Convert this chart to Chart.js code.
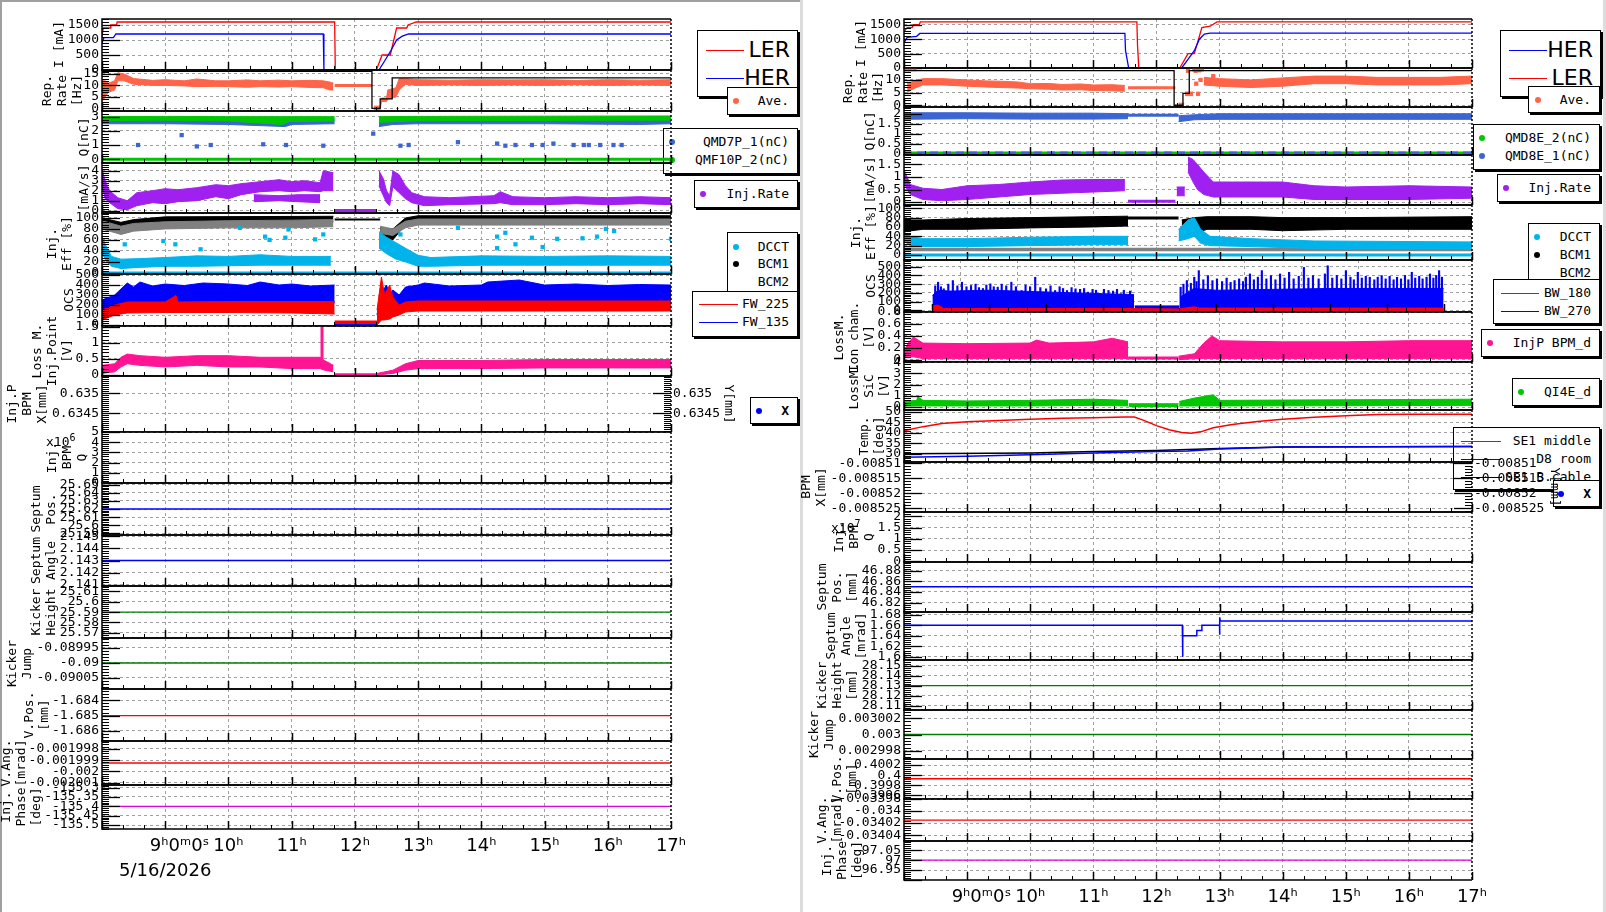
<!DOCTYPE html>
<html>
<head>
<meta charset="utf-8">
<script src="https://cdn.jsdelivr.net/npm/chart.js@4/dist/chart.umd.min.js"></script>
<style>
html,body{margin:0;padding:0}
body{width:1606px;height:912px;position:relative;overflow:hidden;background:#fff}
canvas{position:absolute;z-index:2}
.frm{position:absolute;left:0;top:0;width:800px;height:912px;border-left:2px solid #a0a0a0;border-top:2px solid #a0a0a0;box-sizing:border-box}
.sep{position:absolute;top:0;width:3px;height:912px;background:#dcdcdc}
.lg{position:absolute;background:#fff;border:1px solid #000;box-shadow:2px 2px 0 #000;box-sizing:border-box;z-index:1}
.lg span{position:absolute;right:8px;font:13px 'DejaVu Sans Mono',monospace;line-height:16px;white-space:pre;color:#000}
.lg i{position:absolute;width:6px;height:6px;border-radius:50%;margin:-3px 0 0 -3px}
.lg b{position:absolute;height:0;border-top:1.5px solid}
.lg.big span{font:22px 'DejaVu Sans',sans-serif;line-height:26px;right:7px}
.exp{position:absolute;font:13px 'DejaVu Sans Mono',monospace;z-index:3}
</style>
</head>
<body>
<div class="frm"></div>
<div class="sep" style="left:800px"></div>
<div class="sep" style="left:1603px"></div>

<!-- left column legends -->
<div class="lg big" style="left:697px;top:30px;width:101px;height:67px"><b style="left:8px;top:19px;width:38px;border-color:#f00"></b><span style="top:6px">LER</span><b style="left:8px;top:47px;width:38px;border-color:#00f"></b><span style="top:34px">HER</span></div>
<div class="lg" style="left:727px;top:87px;width:71px;height:28px"><i style="left:8px;top:13px;background:#ff6448"></i><span style="top:5px">Ave.</span></div>
<div class="lg" style="left:663px;top:128px;width:135px;height:46px"><i style="left:8px;top:13px;background:#3c64d2"></i><span style="top:5px">QMD7P_1(nC)</span><i style="left:8px;top:31px;background:#00c800"></i><span style="top:23px">QMF10P_2(nC)</span></div>
<div class="lg" style="left:694px;top:180px;width:104px;height:28px"><i style="left:8px;top:13px;background:#a020f0"></i><span style="top:5px">Inj.Rate</span></div>
<div class="lg" style="left:727px;top:232px;width:71px;height:64px"><i style="left:8px;top:14px;background:#00b4eb"></i><span style="top:6px">DCCT</span><i style="left:8px;top:31px;background:#000"></i><span style="top:23px">BCM1</span><span style="top:41px">BCM2</span></div>
<div class="lg" style="left:692px;top:291px;width:106px;height:46px"><b style="left:6px;top:12px;width:39px;border-color:#f00"></b><span style="top:4px">FW_225</span><b style="left:6px;top:30px;width:39px;border-color:#00f"></b><span style="top:22px">FW_135</span></div>
<div class="lg" style="left:750px;top:397px;width:48px;height:27px"><i style="left:8px;top:13px;background:#00f"></i><span style="top:5px;font-weight:bold">X</span></div>

<!-- right column legends -->
<div class="lg big" style="left:1500px;top:30px;width:101px;height:67px"><b style="left:8px;top:19px;width:38px;border-color:#00f"></b><span style="top:6px">HER</span><b style="left:8px;top:47px;width:38px;border-color:#f00"></b><span style="top:34px">LER</span></div>
<div class="lg" style="left:1528px;top:86px;width:72px;height:27px"><i style="left:9px;top:13px;background:#ff6448"></i><span style="top:5px">Ave.</span></div>
<div class="lg" style="left:1473px;top:124px;width:127px;height:46px"><i style="left:8px;top:13px;background:#00c800"></i><span style="top:5px">QMD8E_2(nC)</span><i style="left:8px;top:31px;background:#3c64d2"></i><span style="top:23px">QMD8E_1(nC)</span></div>
<div class="lg" style="left:1497px;top:174px;width:103px;height:28px"><i style="left:8px;top:13px;background:#a020f0"></i><span style="top:5px">Inj.Rate</span></div>
<div class="lg" style="left:1528px;top:223px;width:72px;height:63px"><i style="left:8px;top:13px;background:#00b4eb"></i><span style="top:5px">DCCT</span><i style="left:8px;top:31px;background:#000"></i><span style="top:23px">BCM1</span><span style="top:41px">BCM2</span></div>
<div class="lg" style="left:1493px;top:279px;width:107px;height:45px"><b style="left:7px;top:13px;width:38px;border-color:#f00"></b><span style="top:5px">BW_180</span><b style="left:7px;top:31px;width:38px;border-color:#00f"></b><span style="top:23px">BW_270</span></div>
<div class="lg" style="left:1481px;top:329px;width:119px;height:28px"><i style="left:8px;top:13px;background:#ff1493"></i><span style="top:5px">InjP BPM_d</span></div>
<div class="lg" style="left:1512px;top:378px;width:88px;height:28px"><i style="left:8px;top:13px;background:#00c800"></i><span style="top:5px">QI4E_d</span></div>
<div class="lg" style="left:1453px;top:427px;width:147px;height:63px"><b style="left:7px;top:13px;width:40px;border-color:#f00"></b><span style="top:5px">SE1 middle</span><b style="left:7px;top:31px;width:40px;border-color:#00f"></b><span style="top:23px">D8 room</span><b style="left:7px;top:49px;width:40px;border-color:#000"></b><span style="top:41px">SE1 B.cable</span></div>
<div class="lg" style="left:1553px;top:480px;width:47px;height:27px"><i style="left:7px;top:13px;background:#00f"></i><span style="top:5px;font-weight:bold">X</span></div>

<div class="exp" style="left:46px;top:432px">x10<sup style="font-size:10px">6</sup></div>
<div class="exp" style="left:831px;top:518px">x10<sup style="font-size:10px">7</sup></div>

<script>
// ---------- time axis ----------
const hourTicks = [8, 9, 10, 11, 12, 13, 14, 15, 16, 17];
const firstLabelL = ['     9ʰ0ᵐ0ˢ', '5/16/2026'];
const firstLabelR = '     9ʰ0ᵐ0ˢ';

// ---------- left page ----------
const L_I_ticks = [0, 500, 1000, 1500];
const L_I_LER = [[8,1100],[8.02,1400],[8.13,1400],[8.14,1500],[8.23,1500],[8.24,1600],[11.68,1600],[11.69,0],[12.34,0],[12.43,500],[12.56,500],[12.66,1400],[12.82,1400],[12.84,1500],[12.97,1600],[17,1600]];
const L_I_HER = [[8,900],[8.03,1080],[8.18,1080],[8.22,1200],[11.5,1200],[11.51,0],[12.38,0],[12.47,300],[12.57,650],[12.66,1000],[12.75,1130],[12.85,1200],[17,1200]];

const L_rep_ticks = [0, 5, 10, 15];
const L_rep_a = [[8,3,12],[8.05,5,12],[8.1,7,11],[8.2,8,12],[8.25,12,15.5],[8.35,12,15],[8.5,10.5,13],[8.8,10,12.2],[9,10,12.5],[9.3,9.8,12],[9.5,9.5,12.8],[9.8,9.6,12],[10,9.5,12],[10.3,9.2,12.4],[10.5,9.5,12],[10.8,9.3,12.3],[11,9.5,12],[11.3,9.1,12.2],[11.5,9,12],[11.6,8,11.5],[11.66,8,11]];
const L_rep_hold = [[11.68,10],[12.27,10]];
const L_rep_b = [[12.3,-0.5,1],[12.4,-0.5,1],[12.42,3,4.5],[12.5,3,4.5],[12.52,4,8],[12.65,5,9],[12.7,8,13],[12.8,10.5,13],[13,10,12.5],[13.5,10.2,12.3],[14,10,12.5],[14.5,10.2,12.4],[15,10,12.5],[15.5,10.3,12.2],[16,10,12.5],[16.5,10.2,12.3],[17,10,12.5]];
const L_rep_set = [[8,16.1],[12.27,16.1],[12.27,0],[12.4,0],[12.4,4.2],[12.59,4.2],[12.59,13.3],[17,13.3]];

const L_q_ticks = [0, 1, 2, 3];
const L_q_blue_a = [[8,2.5,2.85],[9,2.5,2.85],[10,2.45,2.85],[10.9,2.3,2.85],[11,2.45,2.85],[11.68,2.5,2.85]];
const L_q_blue_b = [[12.38,2.3,2.7],[12.6,2.45,2.8],[13,2.5,2.85],[15,2.5,2.85],[16.5,2.45,2.85],[17,2.5,2.85]];
const L_q_green_a = [[8,2.72,3.0],[9,2.75,3.02],[10,2.7,3.0],[10.85,2.45,3.0],[10.95,2.65,3.0],[11.68,2.7,3.0]];
const L_q_green_b = [[12.38,2.6,3.0],[13,2.72,3.02],[17,2.75,3.05]];
const L_q_zero = [[8,0],[17,0]];
const L_q_blue_pts = [[8.57,1.0],[9.26,1.7],[9.5,0.9],[9.72,1.0],[10.55,1.05],[10.91,1.0],[11.5,0.95],[12.29,1.8],[12.72,0.95],[12.85,1.0],[13.63,1.2],[14.25,1.1],[14.38,0.95],[14.54,1.0],[14.8,1.0],[14.97,1.0],[15.14,1.1],[15.46,1.0],[15.62,1.0],[15.7,1.0],[15.88,1.0],[16.09,1.0],[16.22,1.0]];

const L_rate_ticks = [0, 1, 2, 3, 4];
const L_rate_a = [[8,2.5,4.2],[8.05,1.2,3.0],[8.12,0.8,2.0],[8.25,0.2,1.3],[8.4,0.1,1.0],[8.55,0.5,1.8],[8.8,0.8,2.0],[9.0,0.7,2.2],[9.2,0.9,2.1],[9.5,1.0,2.3],[9.8,1.4,2.6],[10.0,1.2,2.5],[10.2,1.6,2.7],[10.5,1.9,2.9],[10.8,2.0,3.1],[11,1.9,2.9],[11.2,2.0,3.0],[11.45,1.9,2.8],[11.5,2.0,4.0],[11.66,2.0,3.8]];
const L_rate_a2 = [[10.4,0.9,1.6],[10.8,1.0,1.5],[11.1,0.9,1.6],[11.45,0.8,1.6]];
const L_rate_hold = [[11.68,0.02],[12.35,0.02]];
const L_rate_b = [[12.38,2.5,4.0],[12.45,1.5,3.2],[12.5,0.8,2.0],[12.55,0.5,1.5],[12.6,2.4,4.0],[12.7,1.8,3.6],[12.8,1.2,2.5],[12.9,0.8,1.8],[13.1,0.5,1.4],[13.5,0.6,1.3],[14.2,0.7,1.5],[14.3,0.8,1.9],[14.5,0.6,1.4],[15,0.6,1.3],[15.5,0.7,1.4],[16,0.6,1.3],[16.5,0.7,1.4],[17,0.6,1.3]];

const L_eff_ticks = [0, 20, 40, 60, 80, 100];
const L_eff_black_a = [[8,88,100],[8.3,80,92],[8.5,86,97],[9,92,102],[11.66,93,103]];
const L_eff_gray_a = [[8,80,95],[8.3,70,85],[8.5,76,90],[9,80,93],[10,82,95],[11,82,96],[11.66,84,97]];
const L_eff_black_hold = [[11.68,97],[12.4,97]];
const L_eff_black_b = [[12.4,65,82],[12.6,60,80],[12.8,88,100],[13,97,104],[17,97,104]];
const L_eff_gray_b = [[12.4,72,85],[12.6,68,80],[12.8,82,94],[13,87,98],[17,87,98]];
const L_eff_cyan_a = [[8,35,65],[8.08,20,45],[8.15,12,30],[8.3,8,25],[8.6,10,26],[9,12,28],[9.5,12,31],[10,13,30],[10.5,14,33],[11,14,30],[11.62,14,30]];
const L_eff_cyan_b = [[12.38,45,75],[12.5,35,65],[12.65,25,55],[12.8,20,45],[13,12,32],[13.2,12,28],[14,14,31],[15,14,30],[16,14,31],[17,14,30]];
const L_eff_zero = [[8,0],[17,0]];
const L_eff_cyan_pts = [[8.36,52],[8.97,58],[9.16,52],[9.56,43],[10.18,82],[10.58,66],[10.65,60],[10.9,64],[10.95,79],[11.37,61],[11.5,70],[12.72,70],[13.63,82],[14.25,66],[14.38,73],[14.54,52],[14.8,64],[15.2,62],[15.6,63],[15.83,66],[15.97,80],[16.1,76],[17,62],[14.25,45],[14.97,47]];

const L_ocs_ticks = [0, 100, 200, 300, 400, 500];
const L_ocs_blue_a = [[8,80,250],[8.2,150,300],[8.4,230,420],[8.5,230,380],[8.6,230,430],[8.8,230,390],[9,230,410],[9.3,230,395],[9.6,230,420],[10,230,410],[10.3,230,395],[10.5,230,430],[10.8,230,400],[11,230,410],[11.3,230,390],[11.68,220,400]];
const L_ocs_red_a = [[8,50,150],[8.2,100,200],[8.4,120,230],[9,125,230],[9.17,125,295],[9.2,125,230],[10,125,235],[11,120,235],[11.68,110,235]];
const L_ocs_red_hold = [[11.68,15,40],[12.35,15,40]];
const L_ocs_blue_zero = [[11.68,0],[12.35,0]];
const L_ocs_blue_b = [[12.35,0,100],[12.4,50,300],[12.45,80,350],[12.5,100,400],[12.55,80,300],[12.6,100,350],[12.7,150,300],[12.8,200,380],[13,230,400],[13.1,230,420],[13.5,230,390],[14,230,400],[14.1,230,430],[14.6,230,450],[15,230,400],[15.5,230,410],[16,230,395],[16.5,230,405],[17,230,400]];
const L_ocs_red_b = [[12.35,0,150],[12.42,50,480],[12.47,50,300],[12.55,60,400],[12.6,80,280],[12.7,100,200],[12.8,130,230],[13,140,240],[17,140,240]];

const L_loss_ticks = [0, 0.5, 1, 1.5];
const L_loss_a = [[8,0.05,0.3],[8.2,0.1,0.35],[8.3,0.25,0.55],[8.4,0.35,0.65],[8.6,0.3,0.6],[9,0.25,0.55],[9.5,0.3,0.6],[10,0.25,0.6],[10.5,0.25,0.55],[11,0.2,0.55],[11.45,0.2,0.55],[11.52,0.15,0.45],[11.66,0.1,0.3]];
const L_loss_spike = [[11.48,0.5],[11.48,1.5]];
const L_loss_hold = [[11.68,0.01],[12.35,0.01]];
const L_loss_b = [[12.35,0,0.05],[12.6,0.05,0.15],[12.8,0.15,0.35],[13,0.2,0.45],[14,0.2,0.45],[15,0.22,0.48],[17,0.22,0.48]];

const L_bpmx_ticks = [0.6345, 0.635];
const L_bpmq_ticks = [0, 1, 2, 3, 4, 5];
const L_septpos_ticks = [25.59, 25.6, 25.61, 25.62, 25.63, 25.64, 25.65];
const L_septpos = [[8,25.62],[17,25.62]];
const L_septang_ticks = [2.141, 2.142, 2.143, 2.144, 2.145];
const L_septang = [[8,2.143],[17,2.143]];
const L_kickh_ticks = [25.57, 25.58, 25.59, 25.6, 25.61];
const L_kickh = [[8,25.59],[17,25.59]];
const L_kickj_ticks = [-0.09005, -0.09, -0.08995];
const L_kickj = [[8,-0.09],[17,-0.09]];
const L_vpos_ticks = [-1.686, -1.685, -1.684];
const L_vpos = [[8,-1.685],[17,-1.685]];
const L_vang_ticks = [-0.002001, -0.002, -0.001999, -0.001998];
const L_vang = [[8,-0.00199925],[17,-0.00199925]];
const L_phase_ticks = [-135.5, -135.45, -135.4, -135.35, -135.3];
const L_phase = [[8,-135.4],[17,-135.4]];

// ---------- right page ----------
const R_I_ticks = [0, 500, 1000, 1500];
const R_I_LER = [[8,1250],[8.05,1400],[8.13,1400],[8.15,1500],[8.24,1500],[8.26,1600],[11.69,1600],[11.7,800],[11.72,0],[12.37,0],[12.5,500],[12.6,500],[12.72,1400],[12.85,1450],[12.96,1600],[17,1600]];
const R_I_HER = [[8,870],[8.05,1060],[8.2,1100],[8.25,1200],[11.5,1200],[11.51,600],[11.56,0],[12.4,0],[12.5,300],[12.6,600],[12.68,1000],[12.76,1180],[12.85,1210],[17,1210]];

const R_rep_ticks = [0, 5, 10];
const R_rep_pts = [[8,14.3],[8.02,14.3],[8.05,14.3],[8.08,14.3],[8.1,14.3],[8.17,14.3],[12.5,13.6],[12.6,14.2],[12.62,13.6],[12.68,13.8],[12.72,14.2],[12.63,8.5],[12.66,4.5],[12.7,10],[12.9,11.5]];
const R_rep_a = [[8.05,5,8.5],[8.15,6.5,9.5],[8.3,8,10.5],[8.6,8,10.5],[9,7.5,10],[9.3,7.2,9.6],[9.5,7,9.5],[9.8,6.8,9.2],[10,6.5,8.5],[10.3,6.3,8.6],[10.5,6,8.2],[10.8,6.1,8.4],[11,5.8,8],[11.3,5.7,8.1],[11.5,5.5,7.8]];
const R_rep_hold = [[11.55,6.9],[12.3,6.9]];
const R_rep_b = [[12.35,-0.5,0.8],[12.44,-0.5,0.8]];
const R_rep_c = [[12.45,3.8,5.2],[12.58,3.8,5.2]];
const R_rep_d = [[12.75,8,11],[13,7.5,10.5],[13.5,7,10],[14,7.5,10.8],[14.5,8.5,11.5],[15,8.5,11.5],[15.5,8,11],[16,8,11],[16.5,8,11],[17,8.5,11.5]];
const R_rep_set = [[8,13.7],[12.28,13.7],[12.28,0],[12.42,0],[12.42,4.7],[12.52,4.7],[12.52,13.7],[17,13.7]];

const R_q_ticks = [0, 0.5, 1, 1.5, 2];
const R_q_blue_a = [[8,1.72,2.05],[9,1.75,2.05],[10,1.73,2.03],[11,1.73,2.03],[11.55,1.75,2.0]];
const R_q_blue_hold = [[11.55,1.92],[12.35,1.92]];
const R_q_blue_b = [[12.35,1.6,1.9],[12.6,1.7,1.95],[13,1.72,2.0],[17,1.72,2.0]];
const R_q_zero = [[8,0],[17,0]];

const R_rate_ticks = [0, 0.5, 1, 1.5];
const R_rate_a = [[8,0.8,1.3],[8.05,0.5,1.0],[8.1,0.3,0.7],[8.3,0.1,0.55],[8.6,0.05,0.5],[9,0.1,0.65],[9.5,0.2,0.7],[10,0.3,0.8],[10.5,0.35,0.88],[11,0.4,0.9],[11.5,0.45,0.9]];
const R_rate_hold = [[11.55,0.03],[12.3,0.03]];
const R_rate_b = [[12.32,0.25,0.6],[12.45,0.25,0.6]];
const R_rate_c = [[12.5,1.2,1.8],[12.58,0.8,1.7],[12.65,0.5,1.5],[12.75,0.3,1.2],[12.9,0.2,0.8],[13.2,0.2,0.8],[14,0.2,0.8],[14.5,0.1,0.65],[15,0.1,0.6],[16,0.1,0.65],[17,0.15,0.6]];

const R_eff_ticks = [0, 20, 40, 60, 80, 100];
const R_eff_gray = [[8,12],[17,12]];
const R_eff_zero = [[8,0],[17,0]];
const R_eff_black_a = [[8,50,75],[8.3,55,75],[9,55,78],[10,58,80],[11,60,82],[11.55,62,83]];
const R_eff_black_hold = [[11.55,79],[12.35,79]];
const R_eff_black_b = [[12.4,50,75],[12.6,45,80],[12.8,55,82],[13.5,55,82],[14,52,80],[15,55,80],[17,55,82]];
const R_eff_cyan_a = [[8,30,50],[8.1,20,40],[8.3,18,35],[9,18,35],[10,20,38],[11,22,40],[11.55,22,40]];
const R_eff_cyan_b = [[12.35,30,55],[12.5,35,75],[12.6,40,80],[12.7,25,55],[12.85,20,40],[13.5,18,35],[14.5,14,30],[17,14,28]];

const R_ocs_ticks = [0, 100, 200, 300, 400, 500];
const R_ocs_blue_a = [[8,0,170],[8.1,0,230],[8.3,0,220],[9,0,230],[10,0,210],[11,0,190],[11.55,0,180]];
const R_ocs_blue_low = [[11.56,0,50],[12.35,0,50]];
const R_ocs_blue_b = [[12.36,0,150],[12.6,0,250],[13,0,230],[14,0,240],[15,0,250],[16,0,250],[17,0,250]];
const R_ocs_blue_spk = [[8.05,280],[8.1,322],[8.15,270],[8.2,246],[8.28,300],[8.36,341],[8.44,280],[8.52,322],[8.6,270],[8.68,284],[8.76,300],[8.82,260],[8.89,250],[8.95,290],[9.02,303],[9.08,270],[9.15,265],[9.22,300],[9.3,280],[9.39,322],[9.47,270],[9.57,227],[9.64,290],[9.72,270],[9.81,379],[9.9,260],[10.0,246],[10.08,280],[10.16,227],[10.24,270],[10.3,250],[10.37,227],[10.45,260],[10.52,246],[10.6,240],[10.67,250],[10.74,208],[10.82,240],[10.88,230],[10.95,190],[11.02,240],[11.1,227],[11.18,220],[11.25,240],[11.32,190],[11.37,230],[11.42,152],[11.48,220],
  [12.37,265],[12.42,300],[12.48,341],[12.55,310],[12.61,379],[12.65,330],[12.69,455],[12.77,350],[12.85,398],[12.93,340],[13.01,360],[13.1,330],[13.18,370],[13.25,320],[13.32,341],[13.4,360],[13.47,330],[13.52,380],[13.59,417],[13.66,350],[13.73,380],[13.8,455],[13.88,360],[13.96,398],[14.04,350],[14.12,417],[14.2,370],[14.28,436],[14.36,360],[14.45,390],[14.54,492],[14.62,370],[14.7,398],[14.8,360],[14.91,417],[14.96,511],[15.04,370],[15.12,400],[15.2,360],[15.28,455],[15.36,380],[15.42,350],[15.49,436],[15.56,370],[15.63,390],[15.7,379],[15.78,350],[15.84,380],[15.91,398],[15.98,360],[16.05,390],[16.12,350],[16.18,379],[16.25,360],[16.32,400],[16.38,350],[16.44,436],[16.5,370],[16.57,390],[16.63,360],[16.7,380],[16.76,417],[16.82,370],[16.87,400],[16.92,455],[16.97,380]];
const R_ocs_red = [[8,0,50],[8.1,0,60],[8.2,0,20],[11.55,0,20],[12.35,0,15],[12.6,0,40],[12.7,0,25],[17,0,25]];

const R_ion_ticks = [0, 0.2, 0.4, 0.6, 0.8];
const R_ion_a = [[8,0.05,0.15],[8.08,0.05,0.3],[8.15,0.05,0.38],[8.3,0.02,0.28],[9,0.02,0.27],[10,0.02,0.28],[10.1,0.02,0.33],[10.3,0.02,0.28],[11,0.02,0.3],[11.3,0.02,0.36],[11.55,0.02,0.3]];
const R_ion_hold = [[11.55,0.03],[12.35,0.03]];
const R_ion_b = [[12.35,0,0.06],[12.6,0.02,0.1],[12.75,0.02,0.28],[12.88,0.02,0.4],[13,0.02,0.32],[14,0.02,0.3],[15,0.02,0.3],[16,0.02,0.32],[17,0.02,0.32]];

const R_sic_ticks = [0, 1, 2, 3, 4];
const R_sic_a = [[8,0.1,0.5],[8.2,0.1,0.6],[8.22,0.1,0.9],[8.3,0.1,0.6],[9,0.1,0.55],[10,0.1,0.6],[11,0.15,0.7],[11.55,0.1,0.6]];
const R_sic_b = [[11.56,0.05,0.3],[12.35,0.05,0.3]];
const R_sic_c = [[12.36,0.1,0.5],[12.6,0.1,0.8],[12.9,0.1,1.1],[13,0.1,0.6],[17,0.15,0.7]];

const R_temp_ticks = [30, 35, 40, 45, 50];
const R_temp_red = [[8,41],[8.3,43],[8.6,44.5],[9,45.3],[9.5,46],[10,46.5],[10.5,47],[11,47.3],[11.5,47.6],[11.65,47.6],[11.8,46],[12,43.5],[12.2,41.5],[12.4,40.2],[12.55,39.8],[12.7,40.5],[12.9,42.5],[13.2,44],[13.6,45.5],[14,46.5],[14.5,47.5],[15,48.2],[15.5,48.8],[16,49],[17,49]];
const R_temp_black = [[8,30],[10,30.3],[11,31],[12,31.5],[13,32.5],[14,33.2],[17,33.5]];
const R_temp_blue = [[8,28.3],[9,28.8],[10,29.5],[11,30.3],[12,31],[12.5,31.3],[13,32.3],[14,33.2],[17,33.5]];

const R_bpmx_ticks = [-0.008525, -0.00852, -0.008515, -0.00851];
const R_bpmq_ticks = [0, 0.5, 1, 1.5, 2];
const R_septpos_ticks = [46.82, 46.84, 46.86, 46.88];
const R_septpos = [[8,46.85],[17,46.85]];
const R_septang_ticks = [1.6, 1.62, 1.64, 1.66, 1.68];
const R_septang = [[8,1.66],[12.41,1.66],[12.41,1.6],[12.42,1.6],[12.42,1.64],[12.64,1.64],[12.64,1.65],[12.72,1.65],[12.72,1.66],[13.0,1.66],[13.0,1.642],[13.005,1.675],[13.01,1.668],[17,1.668]];
const R_kickh_ticks = [28.11, 28.12, 28.13, 28.14, 28.15];
const R_kickh = [[8,28.13],[17,28.13]];
const R_kickj_ticks = [0.002998, 0.003, 0.003002];
const R_kickj = [[8,0.003],[17,0.003]];
const R_vpos_ticks = [0.3996, 0.3998, 0.4, 0.4002];
const R_vpos = [[8,0.39993],[17,0.39993]];
const R_vang_ticks = [-0.03404, -0.03402, -0.034, -0.03398];
const R_vang = [[8,-0.034015],[17,-0.034015]];
const R_phase_ticks = [96.95, 97, 97.05];
const R_phase = [[8,97],[17,97]];

// ---------- styling ----------
const MONO = "'DejaVu Sans Mono', monospace";
const GRID = '#a0a0a0';
const RED = '#ff0000', BLUE = '#0000ff', ORANGE = '#ff6448', GREEN = '#00c800', QBLUE = '#3c64d2',
      PURPLE = '#a020f0', GRAY = '#808080', CYAN = '#00b4eb', PINK = '#ff1493', DKGREEN = '#008000',
      MAGENTA = '#e000e0', BLACK = '#000000';
Chart.defaults.font.family = MONO;
Chart.defaults.font.size = 13;
Chart.defaults.color = '#000';

const fmt = v => String(+(+v).toPrecision(10));
const xy = a => a.map(p => ({x: p[0], y: p[1]}));
const line = (a, c, w, extra) => Object.assign({data: xy(a), borderColor: c, borderWidth: w || 1.3, pointRadius: 0, fill: false, tension: 0}, extra || {});
const band = (a, c) => [
  {data: a.map(p => ({x: p[0], y: p[1]})), borderColor: c, borderWidth: 1, pointRadius: 0, fill: false, tension: 0},
  {data: a.map(p => ({x: p[0], y: p[2]})), borderColor: c, borderWidth: 1, pointRadius: 0, fill: '-1', backgroundColor: c, tension: 0}
];
const pts = (a, c, r) => ({data: xy(a), showLine: false, pointStyle: 'rect', pointRadius: r || 3, pointBackgroundColor: c, pointBorderWidth: 0, borderColor: c});
const spikes = (a, c) => ({type: 'bar', data: xy(a), backgroundColor: c, barThickness: 1.5, grouped: false});

function framePlugin(minor) {
  return {
    id: 'frame',
    afterDraw(chart) {
      const {ctx, chartArea: a, scales} = chart;
      const x = scales.x;
      ctx.save();
      ctx.strokeStyle = '#000';
      const seg = (x1, y1, x2, y2) => { ctx.beginPath(); ctx.moveTo(x1, y1); ctx.lineTo(x2, y2); ctx.stroke(); };
      // 20 minute ticks, hour ticks longer
      for (let k = 0; k <= 27; k++) {
        const major = k % 3 === 0;
        const px = Math.round(x.getPixelForValue(8 + k / 3)) + 0.5;
        ctx.lineWidth = major ? 1.5 : 1;
        seg(px, a.bottom, px, a.bottom - (major ? 8 : 4));
      }
      const yt = (s, x0, dir) => {
        const tv = s.ticks.map(t => t.value);
        const step = tv.length > 1 ? tv[1] - tv[0] : (s.max - s.min) / 2;
        const ms = step / minor;
        const i0 = Math.ceil((s.min - tv[0]) / ms - 1e-6);
        const i1 = Math.floor((s.max - tv[0]) / ms + 1e-6);
        for (let i = i0; i <= i1; i++) {
          const major = ((i % minor) + minor) % minor === 0;
          const py = Math.round(s.getPixelForValue(tv[0] + i * ms)) + 0.5;
          ctx.lineWidth = major ? 1.3 : 1;
          seg(x0, py, x0 + dir * (major ? 18 : 7), py);
        }
      };
      yt(scales.y, a.left, 1);
      if (scales.y2) yt(scales.y2, a.right, -1);
      ctx.lineWidth = 1.5;
      ctx.beginPath();
      ctx.moveTo(a.right, a.top); ctx.lineTo(a.left, a.top); ctx.lineTo(a.left, a.bottom); ctx.lineTo(a.right, a.bottom);
      ctx.stroke();
      ctx.setLineDash([2, 2]);
      seg(a.right, a.top, a.right, a.bottom);
      ctx.restore();
    }
  };
}

function build(col, list) {
  const offL = col ? 800 : 0, W = col ? 806 : 800;
  const yW = col ? 104 : 102, plotR = col ? 672 : 671, y2W = col ? 90 : 65;
  list.forEach((p, idx) => {
    const last = idx === list.length - 1;
    const padT = 12, padB = last ? 0 : 12, xH = last ? 70 : 0;
    const H = p.b - p.t + padT + padB + xH;
    const cv = document.createElement('canvas');
    cv.width = W; cv.height = H;
    Object.assign(cv.style, {left: offL + 'px', top: (p.t - padT) + 'px', width: W + 'px', height: H + 'px'});
    document.body.appendChild(cv);

    const datasets = [];
    (p.ds || []).forEach(d => Array.isArray(d) ? datasets.push(...d) : datasets.push(d));
    datasets.forEach((d, i) => { d.order = -i; });

    const lh = 13 * 1.15;
    const setTicks = s => { s.ticks = p.ticks.map(v => ({value: v})); };
    const scales = {
      x: {
        type: 'linear', min: 8, max: 17,
        afterBuildTicks: s => { s.ticks = hourTicks.map(v => ({value: v})); },
        afterFit: s => { s.height = xH; },
        grid: {color: c => (c.tick && c.tick.value > 8 && c.tick.value < 17) ? GRID : 'rgba(0,0,0,0)', drawTicks: false, lineWidth: 1},
        border: {display: false, dash: [3, 3]},
        ticks: {
          display: last, padding: 5, autoSkip: false, maxRotation: 0,
          font: {family: "'DejaVu Sans', sans-serif", size: 18, lineHeight: 1.4},
          callback: v => v === 8 ? '' : (v === 9 ? (col ? firstLabelR : firstLabelL) : v + 'ʰ')
        }
      },
      y: {
        min: p.min, max: p.max,
        afterBuildTicks: setTicks,
        afterFit: s => { s.width = yW; },
        grid: {color: GRID, drawTicks: false, lineWidth: 1},
        border: {display: false, dash: [3, 3]},
        ticks: {padding: 3, autoSkip: false, callback: v => fmt(v)},
        title: {display: true, text: p.title, padding: {top: p.tx - offL - lh / 2, bottom: 0}, font: {size: 13, lineHeight: 1.15}}
      }
    };
    if (p.y2) {
      scales.y2 = {
        position: 'right', min: p.min, max: p.max,
        afterBuildTicks: setTicks,
        afterFit: s => { s.width = y2W; },
        grid: {display: false, drawTicks: false},
        border: {display: false},
        ticks: {padding: 2, autoSkip: false, callback: v => fmt(v)},
        title: {display: true, text: 'Y[mm]', padding: {top: 0, bottom: 0}, font: {size: 13, lineHeight: 1.15}}
      };
    }
    new Chart(cv, {
      type: 'line',
      data: {datasets},
      options: {
        responsive: false, animation: false, devicePixelRatio: 1,
        layout: {padding: {left: 0, top: padT, bottom: padB, right: W - plotR - (p.y2 ? y2W : 0)}},
        plugins: {legend: {display: false}, tooltip: {enabled: false}},
        scales
      },
      plugins: [framePlugin(p.minor || 5)]
    });
  });
}

const leftPanels = [
  {t: 19, b: 70, min: 0, max: 1700, ticks: L_I_ticks, title: ['I [mA]'], tx: 60,
   ds: [line(L_I_LER, RED), line(L_I_HER, BLUE)]},
  {t: 70, b: 111, min: -1.1, max: 16.7, ticks: L_rep_ticks, title: ['Rep.', 'Rate', '[Hz]'], tx: 48,
   ds: [band(L_rep_a, ORANGE), line(L_rep_hold, ORANGE, 3), band(L_rep_b, ORANGE), line(L_rep_set, BLACK, 1.3)]},
  {t: 111, b: 163, min: -0.27, max: 3.4, ticks: L_q_ticks, title: ['Q[nC]'], tx: 85,
   ds: [band(L_q_blue_a, QBLUE), band(L_q_blue_b, QBLUE), band(L_q_green_a, GREEN), band(L_q_green_b, GREEN), line(L_q_zero, GREEN, 3), pts(L_q_blue_pts, QBLUE)]},
  {t: 163, b: 213, min: -0.23, max: 4.77, ticks: L_rate_ticks, title: ['[mA/s]'], tx: 85,
   ds: [band(L_rate_a, PURPLE), band(L_rate_a2, PURPLE), line(L_rate_hold, PURPLE, 3), band(L_rate_b, PURPLE)]},
  {t: 213, b: 274, min: -2, max: 109, ticks: L_eff_ticks, title: ['Inj.', 'Eff [%]'], tx: 53,
   ds: [band(L_eff_black_a, BLACK), band(L_eff_gray_a, GRAY), line(L_eff_black_hold, BLACK, 2), band(L_eff_black_b, BLACK), band(L_eff_gray_b, GRAY),
        band(L_eff_cyan_a, CYAN), band(L_eff_cyan_b, CYAN), line(L_eff_zero, CYAN, 3), pts(L_eff_cyan_pts, CYAN)]},
  {t: 274, b: 326, min: -10, max: 510, ticks: L_ocs_ticks, title: ['OCS'], tx: 70,
   ds: [band(L_ocs_blue_a, BLUE), band(L_ocs_red_a, RED), band(L_ocs_red_hold, RED), line(L_ocs_blue_zero, BLUE, 2), band(L_ocs_blue_b, BLUE), band(L_ocs_red_b, RED)]},
  {t: 326, b: 376, min: -0.03, max: 1.52, ticks: L_loss_ticks, title: ['Loss M.', 'Inj.Point', '[V]'], tx: 38,
   ds: [band(L_loss_a, PINK), line(L_loss_spike, PINK, 3), line(L_loss_hold, PINK, 3), band(L_loss_b, PINK)]},
  {t: 376, b: 432, min: 0.63403, max: 0.63543, ticks: L_bpmx_ticks, title: ['Inj.P', 'BPM', 'X[mm]'], tx: 13, y2: true, minor: 10, ds: []},
  {t: 432, b: 483, min: 0, max: 5, ticks: L_bpmq_ticks, title: ['Inj.', 'BPM', 'Q'], tx: 53, ds: []},
  {t: 483, b: 535, min: 25.588, max: 25.652, ticks: L_septpos_ticks, title: ['Septum', 'Pos.'], tx: 37, ds: [line(L_septpos, BLUE)]},
  {t: 535, b: 586, min: 2.1409, max: 2.1451, ticks: L_septang_ticks, title: ['Septum', 'Angle'], tx: 37, ds: [line(L_septang, BLUE)]},
  {t: 586, b: 638, min: 25.565, max: 25.6153, ticks: L_kickh_ticks, title: ['Kicker', 'Height'], tx: 37, ds: [line(L_kickh, DKGREEN)]},
  {t: 638, b: 689, min: -0.0900867, max: -0.0899167, ticks: L_kickj_ticks, title: ['Kicker', 'Jump'], tx: 13, ds: [line(L_kickj, DKGREEN)]},
  {t: 689, b: 741, min: -1.68669, max: -1.68324, ticks: L_vpos_ticks, title: ['V.Pos.', '[mm]'], tx: 30, ds: [line(L_vpos, RED)]},
  {t: 741, b: 785, min: -0.0020012, max: -0.0019973, ticks: L_vang_ticks, title: ['V.Ang.', '[mrad]'], tx: 7, ds: [line(L_vang, RED)]},
  {t: 785, b: 829, min: -135.521, max: -135.286, ticks: L_phase_ticks, title: ['Inj.', 'Phase', '[deg]'], tx: 7, ds: [line(L_phase, MAGENTA)]}
];

const rightPanels = [
  {t: 19, b: 68, min: 0, max: 1700, ticks: R_I_ticks, title: ['I [mA]'], tx: 862,
   ds: [line(R_I_LER, RED), line(R_I_HER, BLUE)]},
  {t: 68, b: 107, min: -0.7, max: 14.7, ticks: R_rep_ticks, title: ['Rep.', 'Rate', '[Hz]'], tx: 849,
   ds: [band(R_rep_a, ORANGE), line(R_rep_hold, ORANGE, 3), band(R_rep_b, ORANGE), band(R_rep_c, ORANGE), band(R_rep_d, ORANGE), pts(R_rep_pts, ORANGE), line(R_rep_set, BLACK, 1.3)]},
  {t: 107, b: 155, min: -0.075, max: 2.34, ticks: R_q_ticks, title: ['Q[nC]'], tx: 871,
   ds: [band(R_q_blue_a, QBLUE), line(R_q_blue_hold, QBLUE, 3), band(R_q_blue_b, QBLUE), line(R_q_zero, GREEN, 4), line(R_q_zero, QBLUE, 4, {borderDash: [8, 5]})]},
  {t: 155, b: 205, min: -0.12, max: 1.88, ticks: R_rate_ticks, title: ['[mA/s]'], tx: 871,
   ds: [band(R_rate_a, PURPLE), line(R_rate_hold, PURPLE, 3), band(R_rate_b, PURPLE), band(R_rate_c, PURPLE)]},
  {t: 205, b: 260, min: -10.7, max: 107, ticks: R_eff_ticks, title: ['Inj.', 'Eff [%]'], tx: 857,
   ds: [line(R_eff_gray, GRAY, 3.5), band(R_eff_black_a, BLACK), line(R_eff_black_hold, BLACK, 3), band(R_eff_black_b, BLACK),
        band(R_eff_cyan_a, CYAN), band(R_eff_cyan_b, CYAN), line(R_eff_zero, CYAN, 3)]},
  {t: 260, b: 312, min: -20, max: 577, ticks: R_ocs_ticks, title: ['OCS'], tx: 872,
   ds: [band(R_ocs_blue_a, BLUE), band(R_ocs_blue_low, BLUE), band(R_ocs_blue_b, BLUE), spikes(R_ocs_blue_spk, BLUE), band(R_ocs_red, RED)]},
  {t: 312, b: 362, min: -0.037, max: 0.8, ticks: R_ion_ticks, title: ['LossM.', 'Ion cham.', '[V]'], tx: 840,
   ds: [band(R_ion_a, PINK), line(R_ion_hold, PINK, 3), band(R_ion_b, PINK)]},
  {t: 362, b: 410, min: -0.26, max: 4.02, ticks: R_sic_ticks, title: ['LossM.', 'SiC', '[V]'], tx: 855,
   ds: [band(R_sic_a, GREEN), band(R_sic_b, GREEN), band(R_sic_c, GREEN)]},
  {t: 410, b: 462, min: 26, max: 51, ticks: R_temp_ticks, title: ['Temp.', '[deg]'], tx: 865,
   ds: [line(R_temp_red, RED, 1.5), line(R_temp_black, BLACK, 1.5), line(R_temp_blue, BLUE, 1.5)]},
  {t: 462, b: 512, min: -0.0085263, max: -0.0085095, ticks: R_bpmx_ticks, title: ['Inj.P', 'BPM', 'X[mm]'], tx: 792, y2: true, ds: []},
  {t: 512, b: 562, min: -0.03, max: 2.2, ticks: R_bpmq_ticks, title: ['Inj.', 'BPM', 'Q'], tx: 840, ds: []},
  {t: 562, b: 612, min: 46.802, max: 46.897, ticks: R_septpos_ticks, title: ['Septum', 'Pos.', '[mm]'], tx: 823, ds: [line(R_septpos, BLUE)]},
  {t: 612, b: 660, min: 1.594, max: 1.685, ticks: R_septang_ticks, title: ['Septum', 'Angle', '[mrad]'], tx: 832, ds: [line(R_septang, BLUE, 1.5)]},
  {t: 660, b: 710, min: 28.1057, max: 28.1557, ticks: R_kickh_ticks, title: ['Kicker', 'Height', '[mm]'], tx: 823, ds: [line(R_kickh, DKGREEN)]},
  {t: 710, b: 759, min: 0.002997, max: 0.003003, ticks: R_kickj_ticks, title: ['Kicker', 'Jump'], tx: 815, ds: [line(R_kickj, DKGREEN)]},
  {t: 759, b: 799, min: 0.39953, max: 0.40032, ticks: R_vpos_ticks, title: ['V.Pos.', '[mm]'], tx: 838, ds: [line(R_vpos, RED)]},
  {t: 799, b: 841, min: -0.0340497, max: -0.03398, ticks: R_vang_ticks, title: ['V.Ang.', '[mrad]'], tx: 823, ds: [line(R_vang, RED)]},
  {t: 841, b: 880, min: 96.9, max: 97.0965, ticks: R_phase_ticks, title: ['Inj.', 'Phase', '[deg]'], tx: 828, ds: [line(R_phase, MAGENTA)]}
];

build(0, leftPanels);
build(1, rightPanels);
</script>
</body>
</html>
